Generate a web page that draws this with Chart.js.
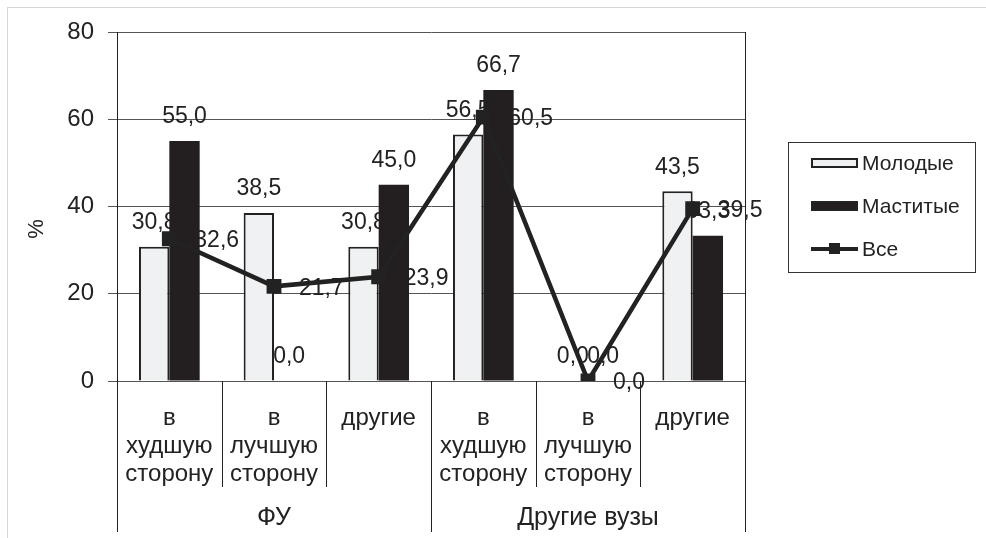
<!DOCTYPE html>
<html>
<head>
<meta charset="utf-8">
<script src="https://cdn.jsdelivr.net/npm/chart.js@4.4.0/dist/chart.umd.min.js"></script>
<style>
body { margin: 0; background: #fff; }
canvas { display: block; }
</style>
</head>
<body>
<canvas id="chart" width="986" height="538"></canvas>
<script>
const categories = [
    ['в', 'худшую', 'сторону'],
    ['в', 'лучшую', 'сторону'],
    ['другие'],
    ['в', 'худшую', 'сторону'],
    ['в', 'лучшую', 'сторону'],
    ['другие']
];
const groups = ['ФУ', 'Другие вузы'];
const groupSize = 3;
const young = [30.8, 38.5, 30.8, 56.5, 0.0, 43.5];
const senior = [55.0, 0.0, 45.0, 66.7, 0.0, 33.3];
const all = [32.6, 21.7, 23.9, 60.5, 0.0, 39.5];
const yTicks = [0, 20, 40, 60, 80];

const FONT = '"Liberation Sans", Arial, sans-serif';
const INK = '#222';
const fmt = v => v.toFixed(1).replace('.', ',');

const decor = {
    id: 'decor',
    beforeDatasetsDraw(chart) {
        // value labels go under the marks, like in the original
        const ctx = chart.ctx;
        ctx.save();
        ctx.font = '23px ' + FONT;
        ctx.fillStyle = INK;
        ctx.textBaseline = 'middle';
        chart.data.datasets.forEach((ds, di) => {
            const meta = chart.getDatasetMeta(di);
            meta.data.forEach((el, i) => {
                if (ds.type === 'line') {
                    ctx.textAlign = 'left';
                    ctx.fillText(fmt(ds.data[i]), el.x + 25, el.y + 2);
                } else {
                    ctx.textAlign = 'center';
                    ctx.fillText(fmt(ds.data[i]), el.x, el.y - 24);
                }
            });
        });
        ctx.restore();
    },
    afterDraw(chart) {
        const ctx = chart.ctx;
        const area = chart.chartArea;
        const step = (area.right - area.left) / categories.length;
        ctx.save();
        ctx.strokeStyle = INK;
        ctx.lineWidth = 1;

        // category and group separators below the axis
        for (let i = 0; i <= categories.length; i++) {
            const px = Math.round(area.left + i * step) + 0.5;
            const end = i % groupSize === 0 ? 532 : 487;
            ctx.beginPath();
            ctx.moveTo(px, area.bottom);
            ctx.lineTo(px, end);
            ctx.stroke();
        }
        ctx.beginPath();
        ctx.moveTo(Math.round(area.right) + 0.5, area.top);
        ctx.lineTo(Math.round(area.right) + 0.5, area.bottom);
        ctx.stroke();

        ctx.font = '25px ' + FONT;
        ctx.fillStyle = INK;
        ctx.textAlign = 'center';
        ctx.textBaseline = 'middle';
        groups.forEach((g, gi) => {
            const cx = area.left + (gi * groupSize + groupSize / 2) * step;
            ctx.fillText(g, cx, 518);
        });

        // axis title
        ctx.save();
        ctx.translate(37, 229);
        ctx.rotate(-Math.PI / 2);
        ctx.font = '22px ' + FONT;
        ctx.fillText('%', 0, 0);
        ctx.restore();

        // legend box
        ctx.strokeStyle = '#333';
        ctx.strokeRect(788.5, 142.5, 187, 130);
        ctx.font = '21px ' + FONT;
        ctx.textAlign = 'left';
        const ds = chart.data.datasets;
        const rows = [163, 206, 249];
        ds.forEach((d, i) => {
            const y = rows[i];
            if (d.type === 'line') {
                ctx.strokeStyle = d.borderColor;
                ctx.lineWidth = 4;
                ctx.beginPath();
                ctx.moveTo(811, y);
                ctx.lineTo(858, y);
                ctx.stroke();
                ctx.fillStyle = d.borderColor;
                ctx.fillRect(829, y - 6, 11, 11);
            } else {
                ctx.fillStyle = d.backgroundColor;
                ctx.fillRect(811, y - 5, 47, 10);
                ctx.strokeStyle = INK;
                ctx.lineWidth = 2;
                ctx.strokeRect(812, y - 4, 45, 8);
            }
            ctx.fillStyle = INK;
            ctx.fillText(d.label, 862, y + 1);
        });

        // light frame around the picture
        ctx.strokeStyle = '#d6d6d6';
        ctx.lineWidth = 1;
        ctx.strokeRect(7.5, 7.5, 1000, 600);
        ctx.restore();
    }
};

new Chart(document.getElementById('chart'), {
    type: 'bar',
    data: {
        labels: categories,
        datasets: [{
            label: 'Молодые',
            data: young,
            backgroundColor: '#f0f1f3',
            borderColor: INK,
            borderWidth: 2,
            order: 1
        }, {
            label: 'Маститые',
            data: senior,
            backgroundColor: '#231f20',
            borderColor: '#231f20',
            borderWidth: 0,
            order: 1
        }, {
            type: 'line',
            label: 'Все',
            data: all,
            borderColor: INK,
            backgroundColor: INK,
            borderWidth: 4.5,
            pointStyle: 'rect',
            pointRadius: 10.5,
            pointBorderWidth: 0,
            tension: 0,
            fill: false,
            order: 0
        }]
    },
    options: {
        responsive: false,
        animation: false,
        devicePixelRatio: 1,
        categoryPercentage: 0.58,
        barPercentage: 1.0,
        layout: {
            padding: { left: 0, right: 241, top: 32, bottom: 7 }
        },
        plugins: {
            legend: { display: false },
            tooltip: { enabled: false }
        },
        scales: {
            x: {
                grid: { display: false },
                border: { display: false },
                ticks: {
                    color: INK,
                    padding: 15,
                    maxRotation: 0,
                    autoSkip: false,
                    font: { family: FONT, size: 24, lineHeight: 1.17 }
                },
                afterFit(s) { s.height = 150; }
            },
            y: {
                min: yTicks[0],
                max: yTicks[yTicks.length - 1],
                afterBuildTicks(s) { s.ticks = yTicks.map(v => ({ value: v })); },
                grid: { color: '#555', lineWidth: 1, tickLength: 9 },
                border: { display: true, color: INK, width: 1 },
                ticks: {
                    color: INK,
                    padding: 14,
                    font: { family: FONT, size: 24 }
                },
                afterFit(s) { s.width = 117; }
            }
        }
    },
    plugins: [decor]
});
</script>
</body>
</html>
